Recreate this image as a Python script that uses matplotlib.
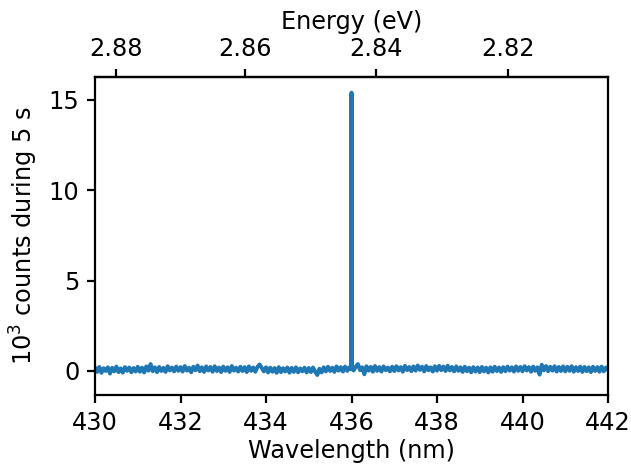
import numpy as np
import matplotlib
matplotlib.use("Agg")
import matplotlib.pyplot as plt

# Wavelength grid (nm), 0.05 nm steps from 430 to 442
wl_start, wl_stop, wl_n = 430.0, 442.0, 241

# Baseline counts (10^3 counts during 5 s)
counts = [
    0.18, -0.05, 0.22, -0.10, 0.15, 0.00, 0.20, -0.14, 0.17, -0.02, 0.24, -0.06, 0.14, -0.09, 0.21, 0.01, 0.19, -0.07, 0.16, -0.03,
    0.23, -0.04, 0.18, -0.08, 0.25, 0.02, 0.38, -0.01, 0.20, -0.06, 0.22, 0.00, 0.17, -0.05, 0.26, 0.03, 0.19, -0.02, 0.24, 0.01,
    0.21, -0.03, 0.27, 0.02, 0.18, -0.07, 0.23, 0.04, 0.30, -0.01, 0.20, -0.05, 0.25, 0.03, 0.22, -0.04, 0.26, 0.00, 0.19, -0.06,
    0.24, 0.01, 0.20, -0.05, 0.27, 0.02, 0.18, -0.03, 0.23, 0.00, 0.21, -0.06, 0.25, 0.01, 0.19, -0.04, 0.22, 0.36, 0.17, -0.02,
    0.20, -0.08, 0.18, -0.04, 0.16, -0.10, 0.21, -0.06, 0.15, -0.03, 0.19, -0.09, 0.17, -0.05, 0.20, -0.07, 0.14, -0.02, 0.18, -0.08,
    0.16, -0.06, 0.19, -0.04, -0.22, 0.12, -0.08, 0.20, -0.02, 0.23, 0.00, 0.18, -0.05, 0.25, 0.02, 0.21, -0.03, 0.24, 0.01, 0.20,
    0.08, 0.03, 0.24, 0.38, 0.05, 0.20, -0.18, 0.26, 0.02, 0.22, -0.04, 0.27, 0.01, 0.21, -0.03, 0.25, 0.04, 0.19, -0.02, 0.23,
    0.00, 0.26, 0.03, 0.21, -0.04, 0.28, 0.05, 0.22, -0.01, 0.25, 0.02, 0.30, 0.06, 0.23, -0.02, 0.27, 0.04, 0.20, -0.03, 0.26,
    0.02, 0.28, 0.05, 0.24, 0.00, 0.29, 0.03, 0.22, -0.02, 0.25, 0.01, 0.20, -0.05, 0.23, -0.01, 0.18, -0.07, 0.21, -0.03, 0.19,
    -0.06, 0.22, -0.02, 0.18, -0.08, 0.20, -0.04, 0.23, 0.00, 0.19, -0.05, 0.21, -0.01, 0.24, 0.02, 0.20, -0.03, 0.25, 0.01, 0.22,
    -0.02, 0.26, 0.03, 0.21, -0.04, 0.24, 0.01, 0.20, -0.20, 0.34, 0.04, 0.27, -0.01, 0.23, 0.02, 0.26, -0.03, 0.22, 0.00, 0.25,
    -0.02, 0.23, 0.01, 0.26, -0.04, 0.21, 0.00, 0.24, -0.05, 0.22, -0.01, 0.20, -0.06, 0.23, 0.00, 0.21, -0.04, 0.24, -0.02, 0.19,
    0.05,
]

# Narrow emission line near 436 nm
spike_wl = [435.99, 436.00, 436.01]
spike_counts = [0.10, 15.40, 0.12]

x_ticks = [430, 432, 434, 436, 438, 440, 442]
y_ticks = [0, 5, 10, 15]
energy_ticks = [2.88, 2.86, 2.84, 2.82]
y_limits = (-1.33, 16.27)

HC = 1239.84  # eV nm

wl_base = np.linspace(wl_start, wl_stop, wl_n)
wavelength = np.concatenate([wl_base, spike_wl])
values = np.concatenate([np.asarray(counts, float), spike_counts])
order = np.argsort(wavelength, kind="stable")
wavelength = wavelength[order]
values = values[order]
# drop the duplicated baseline sample at the line centre
keep = ~((np.isclose(wavelength, 436.0)) & (values < 1))
wavelength, values = wavelength[keep], values[keep]

dpi = 160
plt.rcParams["font.size"] = 10.8
fig = plt.figure(figsize=(631 / dpi, 465 / dpi), dpi=dpi)
ax = fig.add_axes([95 / 631, 1 - 395 / 465, (608 - 95) / 631, (395 - 77) / 465])
ax.plot(wavelength, values, color="#1f77b4", lw=1.8)
ax.set_xlim(wl_start, wl_stop)
ax.set_ylim(*y_limits)
ax.set_xticks(x_ticks)
ax.set_yticks(y_ticks)
ax.set_xlabel("Wavelength (nm)", labelpad=2)
ax.set_ylabel("$10^3$ counts during 5 s")
for s in ax.spines.values():
    s.set_linewidth(1.0)
ax.tick_params(width=1.0)

def wl2e(w):
    w = np.asarray(w, dtype=float)
    with np.errstate(divide="ignore"):
        return HC / w

sec = ax.secondary_xaxis("top", functions=(wl2e, wl2e))
sec.set_xticks(energy_ticks)
sec.set_xlabel("Energy (eV)")
sec.tick_params(width=1.0)
sec.spines["top"].set_linewidth(1.0)

fig.savefig("out.png", dpi=dpi)
